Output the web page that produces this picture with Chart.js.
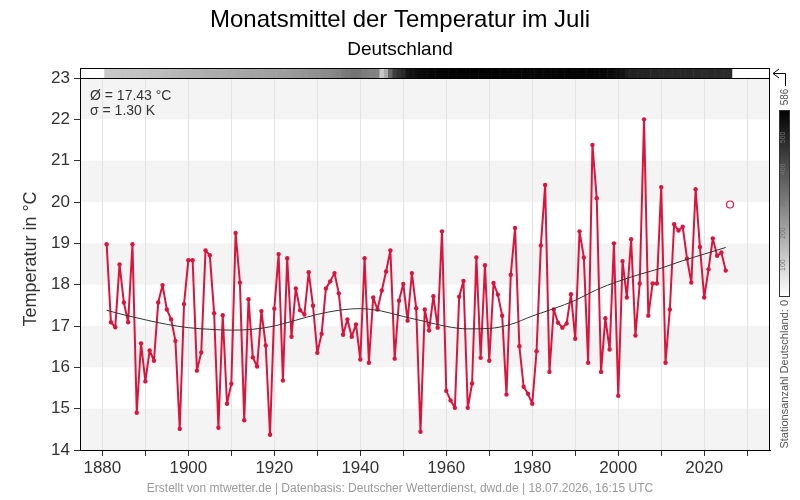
<!DOCTYPE html>
<html>
<head>
<meta charset="utf-8">
<script src="https://cdn.jsdelivr.net/npm/chart.js@4/dist/chart.umd.min.js"></script>
<style>
  html, body { margin: 0; padding: 0; background: #fff; }
</style>
</head>
<body>
<canvas id="c" width="800" height="500"></canvas>
<script>
'use strict';

// Julimittel Deutschland, 1881..2025
const startYear = 1881;
const temps = [
  18.98, 17.09, 16.97, 18.49, 17.57, 17.09, 18.98, 14.90, 16.58, 15.66,   // 1881-1890
  16.41, 16.16, 17.57, 17.99, 17.40, 17.16, 16.64, 14.51, 17.53, 18.59,   // 1891-1900
  18.59, 15.92, 16.36, 18.83, 18.71, 17.31, 14.54, 17.26, 15.12, 15.60,   // 1901-1910
  19.25, 18.05, 14.72, 17.65, 16.24, 16.02, 17.36, 16.53, 14.37, 17.42,   // 1911-1920
  18.74, 15.68, 18.64, 16.74, 17.91, 17.38, 17.28, 18.30, 17.49, 16.35,   // 1921-1930
  16.81, 17.91, 18.08, 18.28, 17.79, 16.79, 17.16, 16.74, 17.04, 16.19,   // 1931-1940
  18.64, 16.11, 17.69, 17.40, 17.86, 18.32, 18.83, 16.21, 17.61, 18.02,   // 1941-1950
  17.13, 18.28, 17.43, 14.44, 17.40, 16.89, 17.72, 16.96, 19.29, 15.43,   // 1951-1960
  15.20, 15.02, 17.71, 18.09, 15.02, 15.61, 18.66, 16.23, 18.47, 16.16,   // 1961-1970
  18.04, 17.76, 17.25, 15.34, 18.24, 19.37, 16.51, 15.53, 15.36, 15.12,   // 1971-1980
  16.39, 18.95, 20.41, 15.89, 17.40, 17.08, 16.96, 17.06, 17.77, 16.69,   // 1981-1990
  19.29, 18.66, 16.11, 21.38, 20.09, 15.89, 17.19, 16.43, 19.00, 15.31,   // 1991-2000
  18.57, 17.69, 19.10, 16.77, 18.03, 22.00, 17.25, 18.03, 18.03, 20.36,   // 2001-2010
  16.11, 17.40, 19.46, 19.31, 19.40, 18.63, 18.05, 20.31, 18.91, 17.69,   // 2011-2020
  18.37, 19.12, 18.70, 18.78, 18.34                                        // 2021-2025
];

// laufender Monat (unvollstaendig)
const currentYear = 2026;
const currentValue = 19.94;

// geglaettete Kurve
const trendYears  = [1881, 1885, 1890, 1895, 1900, 1905, 1910, 1915, 1920, 1925, 1930, 1935, 1940, 1945, 1950,
                     1955, 1960, 1965, 1970, 1975, 1980, 1985, 1990, 1995, 2000, 2005, 2010, 2015, 2020, 2025];
const trendValues = [17.38, 17.27, 17.15, 17.04, 16.96, 16.92, 16.90, 16.92, 17.00, 17.14, 17.28, 17.38, 17.42, 17.36, 17.23,
                     17.11, 16.99, 16.93, 16.94, 17.04, 17.24, 17.42, 17.62, 17.88, 18.08, 18.25, 18.40, 18.58, 18.74, 18.90];

// Stationsanzahl je Jahr, 1881..2026
const stationCounts = [
  125, 127, 129, 131, 133, 135, 137, 139, 141, 143,
  146, 149, 152, 155, 158, 161, 164, 167, 170, 173,
  176, 179, 182, 185, 188, 190, 192, 194, 196, 198,
  200, 202, 204, 206, 208, 210, 212, 214, 216, 218,
  220, 224, 228, 232, 236, 240, 244, 248, 252, 256,
  262, 266, 270, 275, 285, 300, 310, 320, 322, 318,
  300, 295, 290, 285, 126, 190, 350, 440, 470, 490,
  535, 548, 556, 562, 566, 570, 572, 575, 577, 579,
  581, 583, 584, 585, 586, 586, 585, 584, 583, 582,
  581, 580, 578, 577, 576, 575, 574, 573, 572, 571,
  570, 571, 572, 573, 574, 575, 576, 577, 578, 579,
  579, 578, 577, 575, 573, 570, 566, 562, 556, 550,
  542, 520, 508, 505, 503, 502, 500, 498, 498, 497,
  497, 496, 496, 495, 495, 494, 494, 493, 493, 492,
  492, 491, 491, 490, 490, 489
];
const stationMax = 586;
const colorbarTicks = [100, 200, 300, 400, 500];

const yTicks = [14, 15, 16, 17, 18, 19, 20, 21, 22, 23];
const xTicks = [1880, 1890, 1900, 1910, 1920, 1930, 1940, 1950, 1960, 1970, 1980, 1990, 2000, 2010, 2020, 2030];

const FONT = '"Liberation Sans", Arial, sans-serif';
const RED = '#dc143c';

const tempPoints = temps.map((t, i) => ({ x: startYear + i, y: t }));
const trendPoints = trendYears.map((yr, i) => ({ x: yr, y: trendValues[i] }));
const stripPoints = stationCounts.map((n, i) => ({ x: startYear + i, y: [23, 23.242] }));
const stripColors = stationCounts.map(n => {
  const g = Math.round(255 * (1 - n / stationMax));
  return `rgb(${g},${g},${g})`;
});

const decor = {
  id: 'decor',
  beforeDraw(chart) {
    const { ctx, chartArea: a, scales: { y } } = chart;
    ctx.save();
    ctx.fillStyle = '#f4f4f4';
    for (let v = 14; v < 23; v += 2) {
      const y0 = y.getPixelForValue(v + 1), y1 = y.getPixelForValue(v);
      ctx.fillRect(a.left, y0, a.right - a.left, y1 - y0);
    }
    ctx.restore();
  },
  beforeDatasetsDraw(chart) {
    const { ctx, chartArea: a, scales: { y } } = chart;
    ctx.save();
    ctx.fillStyle = '#fff';
    ctx.fillRect(a.left, a.top, a.right - a.left, y.getPixelForValue(23) - a.top);
    ctx.restore();
  },
  afterDraw(chart) {
    const { ctx, chartArea: a, scales: { y } } = chart;
    const y23 = y.getPixelForValue(23);
    ctx.save();
    ctx.strokeStyle = '#000';
    ctx.lineWidth = 1;
    ctx.strokeRect(a.left + 0.5, a.top + 0.5, a.right - a.left - 1, a.bottom - a.top);
    ctx.beginPath();
    ctx.moveTo(a.left, Math.round(y23) + 0.5);
    ctx.lineTo(a.right, Math.round(y23) + 0.5);
    ctx.stroke();

    // Titel
    ctx.fillStyle = '#000';
    ctx.textAlign = 'center';
    ctx.textBaseline = 'middle';
    ctx.font = '24px ' + FONT;
    ctx.fillText('Monatsmittel der Temperatur im Juli', 400, 20);
    ctx.font = '19px ' + FONT;
    ctx.fillText('Deutschland', 400, 50);
    ctx.fillStyle = '#999';
    ctx.font = '12px ' + FONT;
    ctx.fillText('Erstellt von mtwetter.de | Datenbasis: Deutscher Wetterdienst, dwd.de | 18.07.2026, 16:15 UTC', 400, 489);

    // Statistik
    ctx.fillStyle = '#333';
    ctx.textAlign = 'left';
    ctx.font = '14px ' + FONT;
    ctx.fillText('\u00d8 = 17.43 \u00b0C', 90, 96);
    ctx.fillText('\u03c3 = 1.30 K', 90, 111);

    // Farbskala Stationsanzahl
    const bx = 779, bw = 11, bTop = 110, bBot = 297;
    const grad = ctx.createLinearGradient(0, bBot, 0, bTop);
    grad.addColorStop(0, '#fff');
    grad.addColorStop(1, '#000');
    ctx.fillStyle = grad;
    ctx.fillRect(bx, bTop, bw, bBot - bTop);
    ctx.strokeStyle = '#333';
    ctx.strokeRect(bx + 0.5, bTop + 0.5, bw - 1, bBot - bTop - 1);

    const rotText = (txt, x, yy, align, font, color) => {
      ctx.save();
      ctx.translate(x, yy);
      ctx.rotate(-Math.PI / 2);
      ctx.textAlign = align;
      ctx.textBaseline = 'middle';
      ctx.font = font;
      ctx.fillStyle = color;
      ctx.fillText(txt, 0, 0);
      ctx.restore();
    };
    colorbarTicks.forEach(n => {
      const py = bBot - n / stationMax * (bBot - bTop);
      rotText(String(n), bx + 4, py, 'center', '7px ' + FONT, '#777');
    });
    rotText(String(stationMax), 785, 97, 'center', '10px ' + FONT, '#555');
    rotText('Stationsanzahl Deutschland: 0', 785, 300, 'right', '11px ' + FONT, '#555');

    // Pfeil Balken -> Farbskala
    ctx.strokeStyle = '#000';
    ctx.beginPath();
    ctx.moveTo(779, 69); ctx.lineTo(773, 73.5); ctx.lineTo(779, 78);
    ctx.moveTo(773, 73.5); ctx.lineTo(785.5, 73.5); ctx.lineTo(785.5, 86);
    ctx.stroke();
    ctx.restore();
  }
};

new Chart(document.getElementById('c').getContext('2d'), {
  type: 'line',
  data: {
    datasets: [
      {
        label: 'Trend',
        data: trendPoints,
        borderColor: '#333',
        borderWidth: 1,
        pointRadius: 0,
        tension: 0.4,
        cubicInterpolationMode: 'monotone',
        order: 0
      },
      {
        label: 'Juli',
        data: tempPoints,
        borderColor: RED,
        backgroundColor: RED,
        borderWidth: 2,
        borderJoinStyle: 'round',
        borderCapStyle: 'round',
        pointRadius: 2.2,
        pointBorderWidth: 0,
        tension: 0,
        order: 1
      },
      {
        label: 'aktuell',
        data: [{ x: currentYear, y: currentValue }],
        showLine: false,
        borderColor: RED,
        backgroundColor: '#fff',
        pointRadius: 3.5,
        pointBorderWidth: 1.2,
        order: 0
      },
      {
        type: 'bar',
        label: 'Stationen',
        data: stripPoints,
        backgroundColor: stripColors,
        borderColor: stripColors,
        borderWidth: 0.5,
        barPercentage: 1,
        categoryPercentage: 1,
        grouped: false,
        order: 5
      }
    ]
  },
  options: {
    responsive: false,
    animation: false,
    devicePixelRatio: 1,
    layout: { padding: { top: 68, right: 30, bottom: 20, left: 0 } },
    plugins: { legend: { display: false }, tooltip: { enabled: false } },
    scales: {
      x: {
        type: 'linear',
        min: 1874.8,
        max: 2035.3,
        offset: false,
        afterBuildTicks: s => { s.ticks = xTicks.map(v => ({ value: v })); },
        afterFit: s => { s.height = 30; },
        ticks: {
          color: '#333',
          font: { family: FONT, size: 17 },
          padding: 2,
          maxRotation: 0,
          autoSkip: false,
          callback: v => (v % 20 === 0 ? String(v) : '')
        },
        grid: { color: '#e4e4e4', tickColor: '#333', tickLength: 6, offset: false },
        border: { color: '#000' }
      },
      y: {
        min: 14,
        max: 23.242,
        afterBuildTicks: s => { s.ticks = yTicks.map(v => ({ value: v })); },
        afterFit: s => { s.width = 80; },
        ticks: {
          color: '#333',
          font: { family: FONT, size: 17 },
          padding: 4
        },
        grid: { drawOnChartArea: false, tickColor: '#333', tickLength: 6 },
        border: { color: '#000' },
        title: {
          display: true,
          text: 'Temperatur in \u00b0C',
          color: '#333',
          font: { family: FONT, size: 18 },
          padding: { top: 20, bottom: 0 }
        }
      }
    }
  },
  plugins: [decor]
});
</script>
</body>
</html>
